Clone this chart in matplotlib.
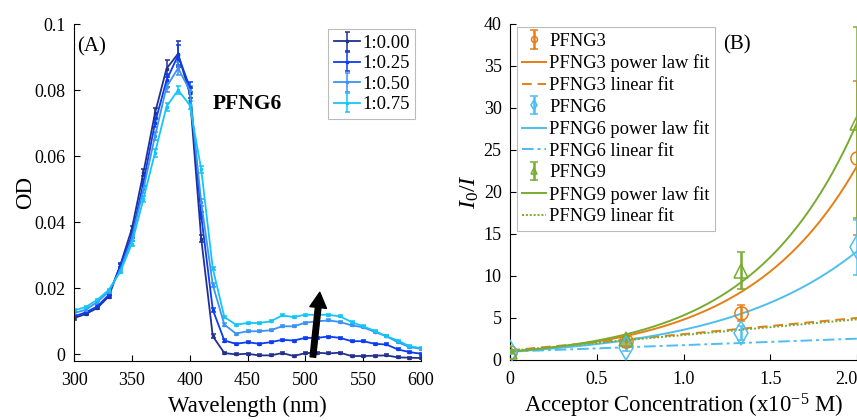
import numpy as np
import matplotlib
matplotlib.use("Agg")
import matplotlib.pyplot as plt

plt.rcParams['font.family'] = ['Liberation Serif', 'DejaVu Serif']
plt.rcParams['mathtext.fontset'] = 'custom'
plt.rcParams['mathtext.rm'] = 'Liberation Serif'
plt.rcParams['mathtext.it'] = 'Liberation Serif:italic'

# ---------------- Panel A data ----------------
wavelength = list(range(300, 601, 10))
ratio_labels = ['1:0.00', '1:0.25', '1:0.50', '1:0.75']
od_000 = [0.0110, 0.0122, 0.0140, 0.0175, 0.0270, 0.0380, 0.0550, 0.0730, 0.0865, 0.0910,
          0.0790, 0.0350, 0.0055, 0.0004, 0.0000, 0.0002, -0.0003, -0.0003, 0.0004, -0.0005,
          0.0004, 0.0005, 0.0003, 0.0005, -0.0005, -0.0005, -0.0004, -0.0003, -0.0009, -0.0010, -0.0011]
od_025 = [0.0115, 0.0127, 0.0145, 0.0180, 0.0268, 0.0360, 0.0520, 0.0700, 0.0830, 0.0905,
          0.0810, 0.0420, 0.0135, 0.0042, 0.0032, 0.0037, 0.0032, 0.0037, 0.0044, 0.0042,
          0.0050, 0.0050, 0.0054, 0.0050, 0.0040, 0.0040, 0.0032, 0.0030, 0.0015, 0.0007, 0.0002]
od_050 = [0.0125, 0.0135, 0.0158, 0.0190, 0.0255, 0.0350, 0.0500, 0.0660, 0.0810, 0.0866,
          0.0800, 0.0460, 0.0210, 0.0090, 0.0063, 0.0070, 0.0070, 0.0073, 0.0085, 0.0085,
          0.0096, 0.0100, 0.0103, 0.0098, 0.0088, 0.0082, 0.0068, 0.0055, 0.0037, 0.0022, 0.0017]
od_075 = [0.0133, 0.0143, 0.0165, 0.0195, 0.0250, 0.0335, 0.0470, 0.0610, 0.0750, 0.0800,
          0.0755, 0.0560, 0.0260, 0.0113, 0.0090, 0.0095, 0.0095, 0.0100, 0.0118, 0.0113,
          0.0120, 0.0120, 0.0120, 0.0115, 0.0098, 0.0085, 0.0071, 0.0055, 0.0042, 0.0025, 0.0019]
err_000 = [0.0005, 0.0004, 0.0004, 0.0004, 0.0006, 0.0008, 0.0010, 0.0015, 0.0025, 0.0040,
           0.0015, 0.0010, 0.0006, 0.0004, 0.0003, 0.0003, 0.0003, 0.0003, 0.0003, 0.0003,
           0.0004, 0.0003, 0.0003, 0.0003, 0.0003, 0.0003, 0.0003, 0.0003, 0.0003, 0.0003, 0.0003]
err_025 = [0.0005, 0.0004, 0.0004, 0.0004, 0.0006, 0.0007, 0.0010, 0.0013, 0.0020, 0.0030,
           0.0015, 0.0010, 0.0006, 0.0004, 0.0003, 0.0003, 0.0003, 0.0003, 0.0003, 0.0003,
           0.0003, 0.0003, 0.0003, 0.0003, 0.0003, 0.0003, 0.0003, 0.0003, 0.0003, 0.0003, 0.0003]
err_050 = [0.0005, 0.0004, 0.0004, 0.0004, 0.0005, 0.0007, 0.0010, 0.0012, 0.0015, 0.0020,
           0.0012, 0.0010, 0.0006, 0.0004, 0.0003, 0.0003, 0.0003, 0.0003, 0.0003, 0.0003,
           0.0003, 0.0003, 0.0003, 0.0003, 0.0003, 0.0003, 0.0003, 0.0003, 0.0003, 0.0003, 0.0003]
err_075 = [0.0005, 0.0004, 0.0004, 0.0004, 0.0005, 0.0007, 0.0010, 0.0012, 0.0012, 0.0012,
           0.0012, 0.0010, 0.0006, 0.0004, 0.0003, 0.0003, 0.0003, 0.0003, 0.0003, 0.0003,
           0.0003, 0.0003, 0.0003, 0.0003, 0.0003, 0.0003, 0.0003, 0.0003, 0.0003, 0.0003, 0.0003]
colors_a = ['#22318f', '#0a3cf2', '#3b93f5', '#14c6f7']

# ---------------- Panel B data ----------------
conc = [0.0, 0.667, 1.333, 2.0]
pfng3 = [1.0, 2.3, 5.6, 24.05]
pfng3_err = [0.2, 0.35, 1.0, 9.15]
pfng6 = [1.0, 1.4, 3.2, 13.4]
pfng6_err = [0.25, 0.3, 0.8, 3.3]
pfng9 = [1.0, 2.5, 10.65, 28.25]
pfng9_err = [0.2, 0.35, 2.15, 11.35]
power_rate = {'PFNG3': 1.57, 'PFNG6': 1.28, 'PFNG9': 1.67}
linear_coef = {'PFNG3': (1.15, 1.93), 'PFNG6': (1.0, 0.77), 'PFNG9': (1.1, 1.87)}
c3, c6, c9 = '#e67e16', '#4dbeee', '#77ac30'

fig = plt.figure(figsize=(8.57, 4.20), dpi=100)

# ---------- Panel A ----------
axA = fig.add_axes([74/857, 1-361/420, 347/857, 337/420])
for od, er, col, lab in zip([od_000, od_025, od_050, od_075],
                            [err_000, err_025, err_050, err_075], colors_a, ratio_labels):
    axA.errorbar(wavelength, od, yerr=er, color=col, lw=1.3, marker='s', ms=2.0,
                 capsize=1.8, elinewidth=1.1, capthick=1.1, label=lab)
axA.set_xlim(300, 600)
axA.set_ylim(-0.002, 0.1)
axA.set_xticks([300, 350, 400, 450, 500, 550, 600])
axA.set_yticks([0, 0.02, 0.04, 0.06, 0.08, 0.1])
axA.set_yticklabels(['0', '0.02', '0.04', '0.06', '0.08', '0.1'])
for s in ['top', 'right']:
    axA.spines[s].set_visible(False)
axA.tick_params(direction='in', labelsize=13, length=4, width=0.8, pad=6)
axA.tick_params(axis='x', pad=8)
axA.set_xlabel('Wavelength (nm)', fontsize=16.5, labelpad=5)
axA.set_ylabel('OD', fontsize=16.5, labelpad=-1)
axA.text(315.5, 0.093, '(A)', fontsize=15, ha='center', va='center')
axA.text(420, 0.0757, 'PFNG6', fontsize=15.5, fontweight='bold', ha='left', va='center')
axA.annotate('', xy=(512.5, 0.0188), xytext=(506.5, -0.0008),
             arrowprops=dict(facecolor='black', edgecolor='black', width=4,
                             headwidth=12, headlength=11, shrink=0))
legA = axA.legend(loc='upper right', bbox_to_anchor=(0.983, 0.985), fontsize=13.5,
                  frameon=True, fancybox=False, edgecolor='#aaaaaa', borderaxespad=0,
                  handlelength=1.4, handletextpad=0.1, labelspacing=0.18,
                  borderpad=0.3)
legA.get_frame().set_linewidth(0.8)

# ---------- Panel B ----------
axB = fig.add_axes([510/857, 1-360/420, 347/857, 336/420])
xs = np.linspace(0, 2.0, 200)
handles = []
labels = []
for name, y, ye, col, mk, ms, ls in [
        ('PFNG3', pfng3, pfng3_err, c3, 'o', 9.5, (0, (5, 3))),
        ('PFNG6', pfng6, pfng6_err, c6, 'd', 12, (0, (6, 2, 1.5, 2))),
        ('PFNG9', pfng9, pfng9_err, c9, '^', 10, (0, (1, 1)))]:
    eb = axB.errorbar(conc, y, yerr=ye, fmt=mk, color=col, mfc='none', mec=col, ms=ms,
                      mew=1.1, capsize=3, elinewidth=1.8, capthick=1.5, zorder=3)
    pw, = axB.plot(xs, np.exp(power_rate[name] * xs), color=col, lw=1.4)
    a, b = linear_coef[name]
    ln, = axB.plot([0, 2.0], [a, a + 2.0 * b], color=col, lw=1.4, ls=ls)
    handles += [eb, pw, ln]
    labels += [name, name + ' power law fit', name + ' linear fit']
axB.set_xlim(0, 2.0)
axB.set_ylim(0, 40)
axB.set_xticks([0, 0.5, 1.0, 1.5, 2.0])
axB.set_xticklabels(['0', '0.5', '1.0', '1.5', '2.0'])
axB.get_xticklabels()[-1].set_ha('right')
axB.set_yticks(range(0, 41, 5))
for s in ['top', 'right']:
    axB.spines[s].set_visible(False)
axB.tick_params(direction='in', labelsize=13, length=4, width=0.8, pad=6)
axB.tick_params(axis='x', pad=8)
axB.set_xlabel('Acceptor Concentration (x10$^{\\mathrm{-5}}$ M)', fontsize=16.5, labelpad=3)
axB.set_ylabel('$I_0/I$', fontsize=17.5, labelpad=2)
axB.text(1.31, 37.5, '(B)', fontsize=15, ha='center', va='center')
legB = axB.legend(handles, labels, loc='upper left', bbox_to_anchor=(0.02, 0.99),
                  fontsize=13.3, frameon=True, fancybox=False, edgecolor='#aaaaaa',
                  borderaxespad=0, handlelength=1.3, handletextpad=0.15,
                  labelspacing=0.25, borderpad=0.3, markerscale=0.45)
legB.get_frame().set_linewidth(0.8)

fig.savefig('out.png', dpi=100)
